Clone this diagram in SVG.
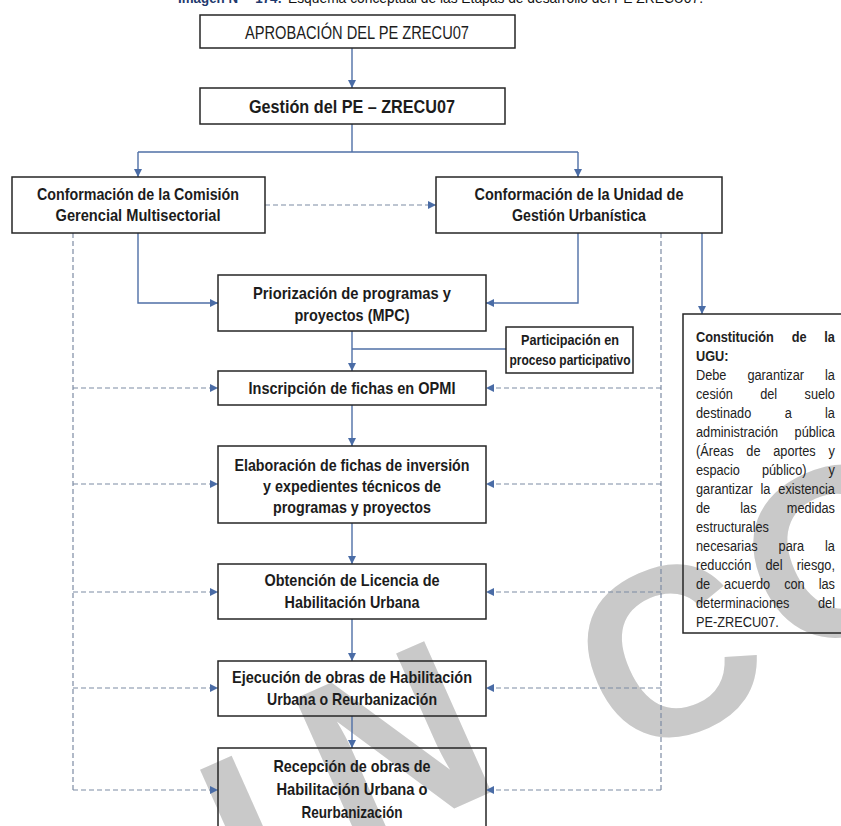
<svg xmlns="http://www.w3.org/2000/svg" width="841" height="826" viewBox="0 0 841 826">
<defs>
<style>
.bg{fill:#ffffff}
.wm{font-family:"Liberation Sans",Arial,sans-serif;font-weight:bold;font-size:240px;fill:#c9c9c9}
.box{fill:none;stroke:#262626;stroke-width:1.5}
.t{font-family:"Liberation Sans",Arial,sans-serif;font-weight:bold;font-size:17px;fill:#1c1c1c}
.tr{font-family:"Liberation Sans",Arial,sans-serif;font-size:18px;fill:#1c1c1c}
.tp{font-family:"Liberation Sans",Arial,sans-serif;font-weight:bold;font-size:14.5px;fill:#1c1c1c}
.f{font-family:"Liberation Sans",Arial,sans-serif;font-size:15px;fill:#222}
.fb{font-weight:bold}
.e{text-anchor:end}
.sl{fill:none;stroke:#4f6fa6;stroke-width:1.4}
.dl{fill:none;stroke:#7d8ba3;stroke-width:1.2;stroke-dasharray:5 3}
.ttl{font-family:"Liberation Sans",Arial,sans-serif;font-size:15px}
</style>
<marker id="ah" viewBox="0 0 10 10" refX="10" refY="5" markerWidth="9" markerHeight="8" markerUnits="userSpaceOnUse" orient="auto">
<path d="M0,0 L10,5 L0,10 z" fill="#4a6ca6"/>
</marker>
</defs>
<rect class="bg" x="0" y="0" width="841" height="826"/>

<g id="watermark">
<text class="wm" transform="translate(252.5,926.9) rotate(-24)">I</text>
<text class="wm" transform="translate(347.7,855.7) rotate(-24)">N</text>
<text class="wm" transform="translate(622.7,763.7) rotate(-24)">C</text>
<text class="wm" transform="translate(787.7,664.4) rotate(-24)">O</text>
</g>

<g id="title">
<text class="ttl" y="3"><tspan x="178" textLength="104" lengthAdjust="spacingAndGlyphs" font-weight="bold" fill="#1f3a6e">Imagen N° - 174:</tspan><tspan x="288" textLength="415" lengthAdjust="spacingAndGlyphs" fill="#111">Esquema conceptual de las Etapas de desarrollo del PE ZRECU07.</tspan></text>
</g>

<g id="connectors">
<path class="sl" d="M352,48 V88" marker-end="url(#ah)"/>
<path class="sl" d="M352,124 V152"/>
<path class="sl" d="M138,152 H578"/>
<path class="sl" d="M138,152 V177" marker-end="url(#ah)"/>
<path class="sl" d="M578,152 V177" marker-end="url(#ah)"/>
<path class="dl" d="M265,205 H436" marker-end="url(#ah)"/>
<path class="sl" d="M138,233 V303 H218" marker-end="url(#ah)"/>
<path class="sl" d="M578,233 V303 H486" marker-end="url(#ah)"/>
<path class="sl" d="M702,233 V314" marker-end="url(#ah)"/>
<path class="sl" d="M352,331 V371" marker-end="url(#ah)"/>
<path class="sl" d="M506,349 H352"/>
<path class="sl" d="M352,405 V446" marker-end="url(#ah)"/>
<path class="sl" d="M352,523 V564" marker-end="url(#ah)"/>
<path class="sl" d="M352,619 V661" marker-end="url(#ah)"/>
<path class="sl" d="M352,716 V748" marker-end="url(#ah)"/>
<path class="dl" d="M73,233 V790"/>
<path class="dl" d="M73,388 H218" marker-end="url(#ah)"/>
<path class="dl" d="M73,484 H218" marker-end="url(#ah)"/>
<path class="dl" d="M73,592 H218" marker-end="url(#ah)"/>
<path class="dl" d="M73,688 H218" marker-end="url(#ah)"/>
<path class="dl" d="M73,790 H218" marker-end="url(#ah)"/>
<path class="dl" d="M661,233 V790"/>
<path class="dl" d="M661,388 H486" marker-end="url(#ah)"/>
<path class="dl" d="M661,484 H486" marker-end="url(#ah)"/>
<path class="dl" d="M661,592 H486" marker-end="url(#ah)"/>
<path class="dl" d="M661,688 H486" marker-end="url(#ah)"/>
<path class="dl" d="M661,790 H486" marker-end="url(#ah)"/>
</g>

<g id="aprobacion">
<rect class="box" x="200" y="15" width="315" height="33"/>
<text class="tr" x="245" y="38.5" textLength="224" lengthAdjust="spacingAndGlyphs">APROBACIÓN DEL PE ZRECU07</text>
</g>

<g id="gestion">
<rect class="box" x="200" y="88" width="305" height="36"/>
<text class="t" style="font-size:18px" x="249" y="112.5" textLength="206" lengthAdjust="spacingAndGlyphs">Gestión del PE – ZRECU07</text>
</g>

<g id="comision">
<rect class="box" x="12" y="177" width="253" height="56"/>
<text class="t" x="37" y="200" textLength="202" lengthAdjust="spacingAndGlyphs">Conformación de la Comisión</text>
<text class="t" x="55.5" y="221" textLength="165" lengthAdjust="spacingAndGlyphs">Gerencial Multisectorial</text>
</g>

<g id="unidad">
<rect class="box" x="436" y="177" width="286" height="56"/>
<text class="t" x="474.5" y="200" textLength="209" lengthAdjust="spacingAndGlyphs">Conformación de la Unidad de</text>
<text class="t" x="512" y="221" textLength="134" lengthAdjust="spacingAndGlyphs">Gestión Urbanística</text>
</g>

<g id="priorizacion">
<rect class="box" x="218" y="275" width="268" height="56"/>
<text class="t" x="253" y="299" textLength="198" lengthAdjust="spacingAndGlyphs">Priorización de programas y</text>
<text class="t" x="294.5" y="321" textLength="115" lengthAdjust="spacingAndGlyphs">proyectos (MPC)</text>
</g>

<g id="participacion">
<rect class="box" x="506" y="327" width="127" height="46"/>
<text class="tp" x="521" y="344.5" textLength="98" lengthAdjust="spacingAndGlyphs">Participación en</text>
<text class="tp" x="509.5" y="364.5" textLength="121" lengthAdjust="spacingAndGlyphs">proceso participativo</text>
</g>

<g id="inscripcion">
<rect class="box" x="218" y="371" width="268" height="34"/>
<text class="t" x="248.5" y="394" textLength="207" lengthAdjust="spacingAndGlyphs">Inscripción de fichas en OPMI</text>
</g>

<g id="elaboracion">
<rect class="box" x="218" y="446" width="268" height="77"/>
<text class="t" x="234.5" y="471" textLength="235" lengthAdjust="spacingAndGlyphs">Elaboración de fichas de inversión</text>
<text class="t" x="263" y="492" textLength="178" lengthAdjust="spacingAndGlyphs">y expedientes técnicos de</text>
<text class="t" x="273" y="513" textLength="158" lengthAdjust="spacingAndGlyphs">programas y proyectos</text>
</g>

<g id="licencia">
<rect class="box" x="218" y="564" width="268" height="55"/>
<text class="t" x="264.5" y="586" textLength="175" lengthAdjust="spacingAndGlyphs">Obtención de Licencia de</text>
<text class="t" x="284.5" y="608" textLength="135" lengthAdjust="spacingAndGlyphs">Habilitación Urbana</text>
</g>

<g id="ejecucion">
<rect class="box" x="218" y="661" width="268" height="55"/>
<text class="t" x="232" y="683" textLength="240" lengthAdjust="spacingAndGlyphs">Ejecución de obras de Habilitación</text>
<text class="t" x="267" y="705" textLength="170" lengthAdjust="spacingAndGlyphs">Urbana o Reurbanización</text>
</g>

<g id="recepcion">
<rect class="box" x="218" y="748" width="268" height="100"/>
<text class="t" x="273.5" y="772" textLength="157" lengthAdjust="spacingAndGlyphs">Recepción de obras de</text>
<text class="t" x="276.5" y="795" textLength="151" lengthAdjust="spacingAndGlyphs">Habilitación Urbana o</text>
<text class="t" x="301.5" y="818" textLength="101" lengthAdjust="spacingAndGlyphs">Reurbanización</text>
</g>

<g id="constitucion">
<rect class="box" x="683" y="314" width="170" height="319"/>
<g transform="translate(696,0) scale(0.85,1)">
<text class="f fb" x="0" y="342">Constitución</text><text class="f fb" x="112.6" y="342">de</text><text class="f fb e" x="163.5" y="342">la</text>
<text class="f fb" x="0" y="361">UGU:</text>
<text class="f" x="0" y="380">Debe</text><text class="f" x="60.5" y="380">garantizar</text><text class="f e" x="163.5" y="380">la</text>
<text class="f" x="0" y="399">cesión</text><text class="f" x="75.5" y="399">del</text><text class="f e" x="163.5" y="399">suelo</text>
<text class="f" x="0" y="418">destinado</text><text class="f" x="104.3" y="418">a</text><text class="f e" x="163.5" y="418">la</text>
<text class="f" x="0" y="437">administración</text><text class="f e" x="163.5" y="437">pública</text>
<text class="f" x="0" y="456">(Áreas</text><text class="f" x="59.2" y="456">de</text><text class="f" x="90.9" y="456">aportes</text><text class="f e" x="163.5" y="456">y</text>
<text class="f" x="0" y="475">espacio</text><text class="f" x="77.6" y="475">público)</text><text class="f e" x="163.5" y="475">y</text>
<text class="f" x="0" y="494">garantizar</text><text class="f" x="75.9" y="494">la</text><text class="f e" x="163.5" y="494">existencia</text>
<text class="f" x="0" y="513">de</text><text class="f" x="52.1" y="513">las</text><text class="f e" x="163.5" y="513">medidas</text>
<text class="f" x="0" y="532">estructurales</text>
<text class="f" x="0" y="551">necesarias</text><text class="f" x="97.2" y="551">para</text><text class="f e" x="163.5" y="551">la</text>
<text class="f" x="0" y="570">reducción</text><text class="f" x="81.75" y="570">del</text><text class="f e" x="163.5" y="570">riesgo,</text>
<text class="f" x="0" y="589">de</text><text class="f" x="33.1" y="589">acuerdo</text><text class="f" x="103.7" y="589">con</text><text class="f e" x="163.5" y="589">las</text>
<text class="f" x="0" y="608">determinaciones</text><text class="f e" x="163.5" y="608">del</text>
<text class="f" x="0" y="627">PE-ZRECU07.</text>
</g>
</g>
</svg>
